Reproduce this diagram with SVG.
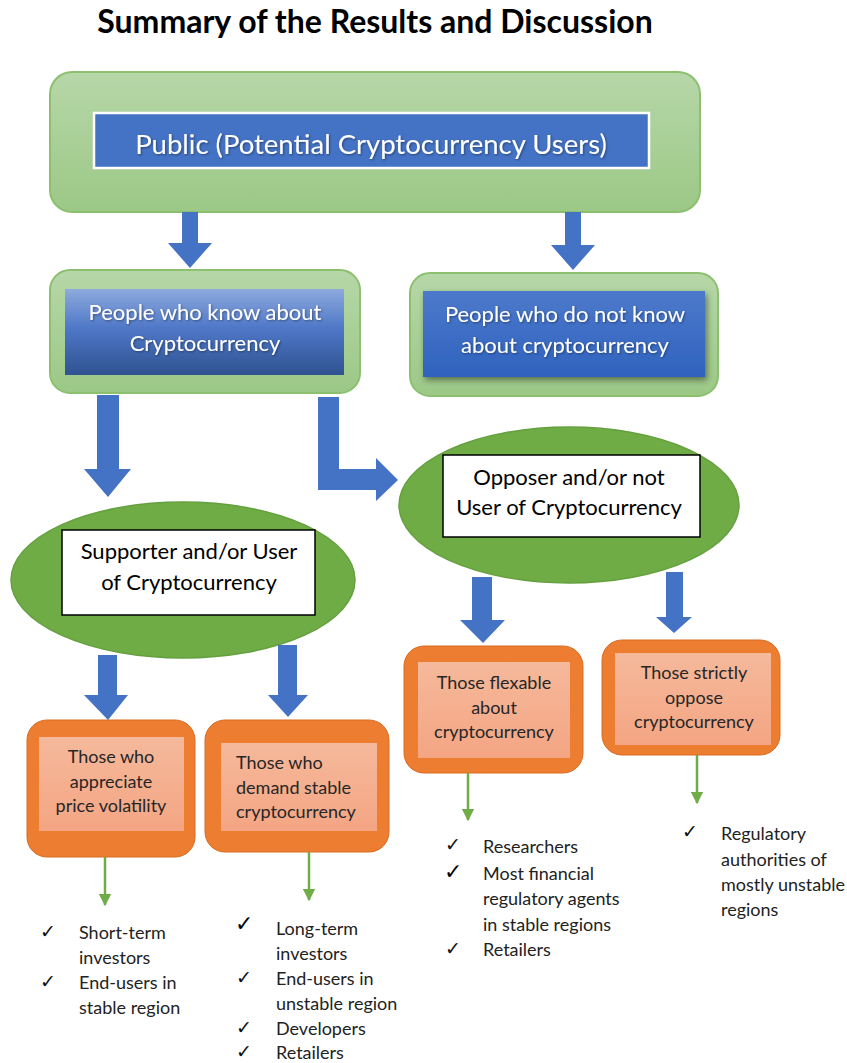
<svg xmlns="http://www.w3.org/2000/svg" width="847" height="1063" viewBox="0 0 847 1063">
  <defs>
    <linearGradient id="gGreen" x1="0" y1="0" x2="0" y2="1">
      <stop offset="0" stop-color="#b6d7a8"/>
      <stop offset="1" stop-color="#9cc886"/>
    </linearGradient>
    <linearGradient id="gBlueDark" x1="0" y1="0" x2="0" y2="1">
      <stop offset="0" stop-color="#8eaadc"/>
      <stop offset="0.45" stop-color="#4f78c8"/>
      <stop offset="1" stop-color="#2f5290"/>
    </linearGradient>
    <linearGradient id="gBlue" x1="0" y1="0" x2="0" y2="1">
      <stop offset="0" stop-color="#4d79cb"/>
      <stop offset="1" stop-color="#2f62be"/>
    </linearGradient>
    <linearGradient id="gPeach" x1="0" y1="0" x2="0" y2="1">
      <stop offset="0" stop-color="#f5b99b"/>
      <stop offset="1" stop-color="#f4a583"/>
    </linearGradient>
    <filter id="boxShadow" x="-10%" y="-20%" width="125%" height="150%">
      <feDropShadow dx="2" dy="3" stdDeviation="3" flood-color="#000" flood-opacity="0.45"/>
    </filter>
    <filter id="txtShadow" x="-5%" y="-20%" width="110%" height="150%">
      <feDropShadow dx="1" dy="1" stdDeviation="0.8" flood-color="#000" flood-opacity="0.4"/>
    </filter>
    <marker id="greenHead" viewBox="0 0 10 10" refX="9" refY="5" markerWidth="5" markerHeight="5" orient="auto" markerUnits="strokeWidth">
      <path d="M0,0 L10,5 L0,10 Z" fill="#70ad47"/>
    </marker>
  </defs>
  <style>
    .title { font-family: Lato, "Liberation Sans", sans-serif; font-weight: bold; font-size: 32px; fill: #000; }
    .outer { fill: url(#gGreen); stroke: #8cc06f; stroke-width: 2; }
    .wtxt { font-family: Lato, "Liberation Sans", sans-serif; fill: #fff; text-anchor: middle; font-size: 22px; }
    .wtxt-big { font-family: Lato, "Liberation Sans", sans-serif; fill: #fff; text-anchor: middle; font-size: 27.5px; }
    .btxt { font-family: Lato, "Liberation Sans", sans-serif; fill: #000; font-size: 22px; text-anchor: middle; }
    .ell { fill: #6fac46; stroke: #65a03f; stroke-width: 1.5; }
    .wbox { fill: #fff; stroke: #000; stroke-width: 1.5; }
    .orange { fill: #ed7d31; stroke: #d86c22; stroke-width: 1; }
    .peach { fill: url(#gPeach); }
    .otxt { font-family: Lato, "Liberation Sans", sans-serif; fill: #262626; font-size: 18px; text-anchor: middle; }
    .otxt-l { font-family: Lato, "Liberation Sans", sans-serif; fill: #262626; font-size: 18px; text-anchor: start; }
    .blk { fill: #4472c4; }
    .gline { stroke: #70ad47; stroke-width: 2.5; fill: none; marker-end: url(#greenHead); }
    .ltxt { font-family: Lato, "Liberation Sans", sans-serif; fill: #222; font-size: 18px; }
    .chk { font-family: "DejaVu Sans", sans-serif; fill: #111; font-size: 19px; }
    .chk-b { font-family: "DejaVu Sans", sans-serif; fill: #000; font-size: 22px; }
  </style>

  <text class="title" x="375" y="33" text-anchor="middle">Summary of the Results and Discussion</text>

  <!-- top level -->
  <g id="public">
    <rect class="outer" x="50" y="72" width="650" height="140" rx="22"/>
    <rect x="94" y="113" width="555" height="55" fill="#4472c4" stroke="#fff" stroke-width="2.5"/>
    <text class="wtxt-big" x="371" y="154" filter="url(#txtShadow)">Public (Potential Cryptocurrency Users)</text>
  </g>

  <g id="know">
    <rect class="outer" x="50" y="270" width="310" height="123" rx="20"/>
    <rect x="65" y="289" width="279" height="86" fill="url(#gBlueDark)"/>
    <text class="wtxt" x="205" y="320" filter="url(#txtShadow)">People who know about</text>
    <text class="wtxt" x="205" y="351" filter="url(#txtShadow)">Cryptocurrency</text>
  </g>

  <g id="notknow">
    <rect class="outer" x="410" y="273" width="308" height="123" rx="20"/>
    <rect x="423" y="291" width="282" height="86" fill="url(#gBlue)" filter="url(#boxShadow)"/>
    <text class="wtxt" x="565" y="322" filter="url(#txtShadow)">People who do not know</text>
    <text class="wtxt" x="565" y="353" filter="url(#txtShadow)">about cryptocurrency</text>
  </g>

  <g id="supporter">
    <ellipse class="ell" cx="183" cy="580" rx="172" ry="78"/>
    <rect class="wbox" x="62" y="530" width="253" height="85"/>
    <text class="btxt" x="189" y="559">Supporter and/or User</text>
    <text class="btxt" x="189" y="590">of Cryptocurrency</text>
  </g>

  <g id="opposer">
    <ellipse class="ell" cx="569" cy="505" rx="170" ry="78"/>
    <rect class="wbox" x="443" y="455" width="257" height="82"/>
    <text class="btxt" x="569" y="485">Opposer and/or not</text>
    <text class="btxt" x="569" y="515">User of Cryptocurrency</text>
  </g>

  <g id="appreciate">
    <rect class="orange" x="27" y="720" width="168" height="137" rx="20"/>
    <rect class="peach" x="39" y="737" width="145" height="94"/>
    <text class="otxt" x="111" y="763">Those who</text>
    <text class="otxt" x="111" y="788">appreciate</text>
    <text class="otxt" x="111" y="812">price volatility</text>
  </g>

  <g id="demand">
    <rect class="orange" x="205" y="720" width="184" height="132" rx="20"/>
    <rect class="peach" x="221" y="743" width="156" height="88"/>
    <text class="otxt-l" x="236" y="769">Those who</text>
    <text class="otxt-l" x="236" y="794">demand stable</text>
    <text class="otxt-l" x="236" y="818">cryptocurrency</text>
  </g>

  <g id="flexible">
    <rect class="orange" x="404" y="646" width="179" height="127" rx="20"/>
    <rect class="peach" x="418" y="662" width="152" height="96"/>
    <text class="otxt" x="494" y="689">Those flexable</text>
    <text class="otxt" x="494" y="714">about</text>
    <text class="otxt" x="494" y="738">cryptocurrency</text>
  </g>

  <g id="strict">
    <rect class="orange" x="602" y="640" width="178" height="115" rx="20"/>
    <rect class="peach" x="615" y="653" width="156" height="92"/>
    <text class="otxt" x="694" y="679">Those strictly</text>
    <text class="otxt" x="694" y="704">oppose</text>
    <text class="otxt" x="694" y="728">cryptocurrency</text>
  </g>

  <!-- block arrows and thin arrows -->
  <g id="connectors">
    <polygon class="blk" points="182,212 198,212 198,243 212,243 190,268 168,243 182,243"/>
    <polygon class="blk" points="565,212 581,212 581,245 595,245 573,270 551,245 565,245"/>
    <polygon class="blk" points="97,395 119,395 119,469 131,469 108,497 84,469 97,469"/>
    <polygon class="blk" points="318,397 339,397 339,469 376,469 376,458 398,480 376,501 376,490 318,490"/>
    <polygon class="blk" points="98,655 117,655 117,695 128,695 108,720 84,695 98,695"/>
    <polygon class="blk" points="278,645 297,645 297,695 308,695 288,717 268,695 278,695"/>
    <polygon class="blk" points="472,577 492,577 492,620 505,620 483,643 460,620 472,620"/>
    <polygon class="blk" points="666,572 683,572 683,617 692,617 674,633 656,617 666,617"/>

    <line class="gline" x1="105" y1="857" x2="105" y2="905"/>
    <line class="gline" x1="309" y1="852" x2="309" y2="900"/>
    <line class="gline" x1="468" y1="773" x2="468" y2="820"/>
    <line class="gline" x1="697" y1="755" x2="697" y2="803"/>
  </g>

  <g id="list-appreciate">
    <text class="chk" x="40" y="938">✓</text>
    <text class="ltxt" x="79" y="939">Short-term</text>
    <text class="ltxt" x="79" y="964">investors</text>
    <text class="chk" x="40" y="988">✓</text>
    <text class="ltxt" x="79" y="989">End-users in</text>
    <text class="ltxt" x="79" y="1014">stable region</text>
  </g>

  <g id="list-demand">
    <text class="chk-b" x="235" y="931">✓</text>
    <text class="ltxt" x="276" y="935">Long-term</text>
    <text class="ltxt" x="276" y="960">investors</text>
    <text class="chk" x="236" y="984">✓</text>
    <text class="ltxt" x="276" y="985">End-users in</text>
    <text class="ltxt" x="276" y="1010">unstable region</text>
    <text class="chk" x="236" y="1034">✓</text>
    <text class="ltxt" x="276" y="1035">Developers</text>
    <text class="chk" x="236" y="1058">✓</text>
    <text class="ltxt" x="276" y="1059">Retailers</text>
  </g>

  <g id="list-flexible">
    <text class="chk" x="445" y="851">✓</text>
    <text class="ltxt" x="483" y="853">Researchers</text>
    <text class="chk-b" x="444" y="879">✓</text>
    <text class="ltxt" x="483" y="880">Most financial</text>
    <text class="ltxt" x="483" y="905">regulatory agents</text>
    <text class="ltxt" x="483" y="931">in stable regions</text>
    <text class="chk" x="445" y="955">✓</text>
    <text class="ltxt" x="483" y="956">Retailers</text>
  </g>

  <g id="list-strict">
    <text class="chk" x="682" y="838">✓</text>
    <text class="ltxt" x="721" y="840">Regulatory</text>
    <text class="ltxt" x="721" y="866">authorities of</text>
    <text class="ltxt" x="721" y="891">mostly unstable</text>
    <text class="ltxt" x="721" y="916">regions</text>
  </g>
</svg>
